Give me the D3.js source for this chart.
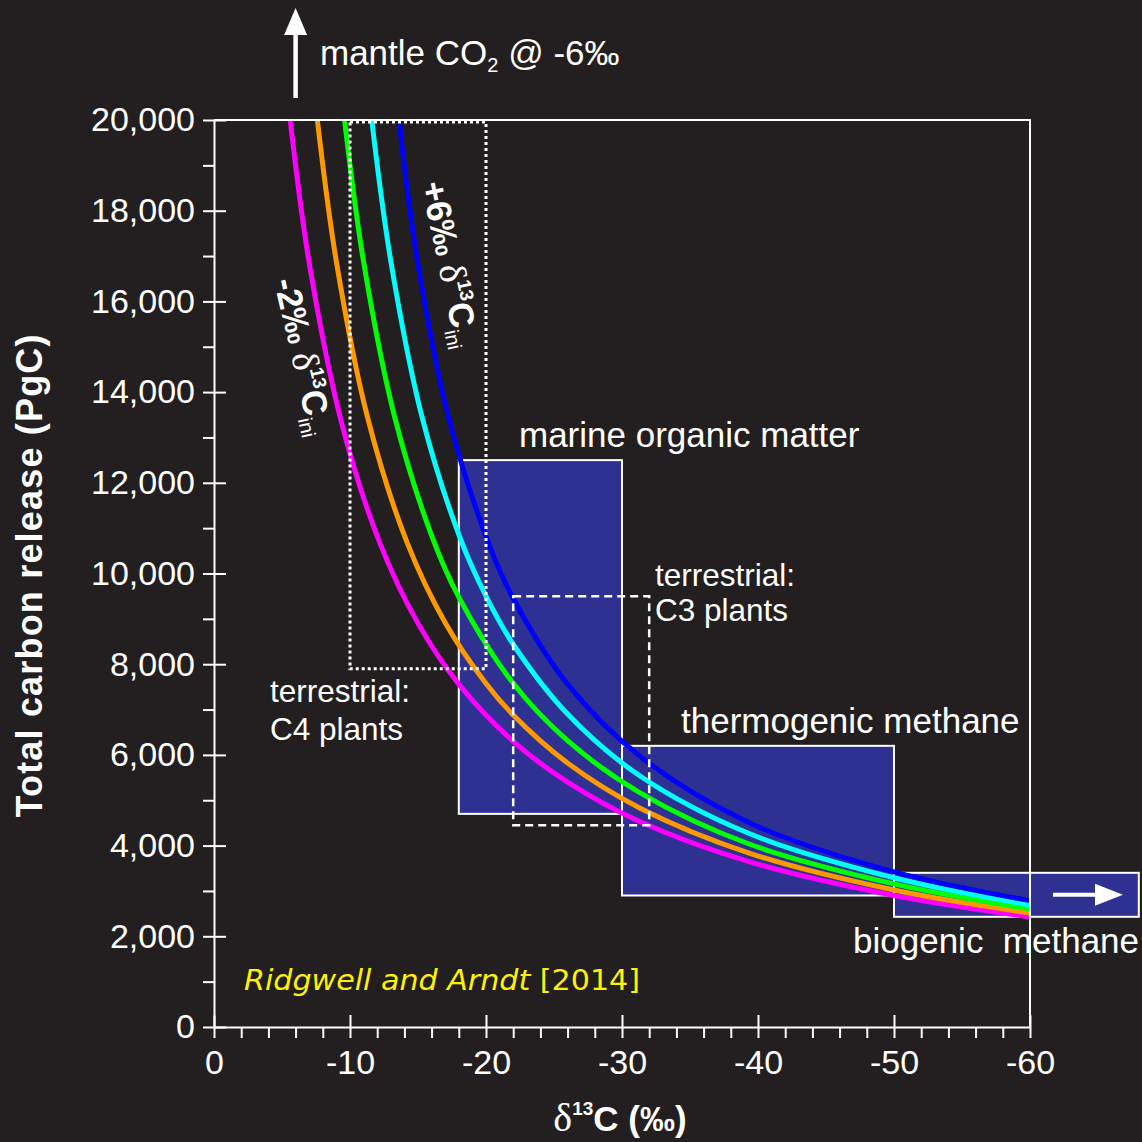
<!DOCTYPE html>
<html>
<head>
<meta charset="utf-8">
<script src="https://cdn.jsdelivr.net/npm/d3@7"></script>
<style>
  html, body { margin: 0; padding: 0; background: #231f20; }
  svg { display: block; }
  text { font-family: "Liberation Sans", Arial, Helvetica, sans-serif; fill: #fff; }
  .serif { font-family: "Liberation Serif", "Times New Roman", serif; }
</style>
</head>
<body>
<script>
// ---- data ---------------------------------------------------------------
const deltaMajorTicks = [0, -10, -20, -30, -40, -50, -60];
const deltaMinorTicks = [-2, -4, -6, -8, -12, -14, -16, -18, -22, -24, -26, -28, -32, -34, -36, -38, -42, -44, -46, -48, -52, -54, -56, -58];
const releaseMajorTicks = [0, 2000, 4000, 6000, 8000, 10000, 12000, 14000, 16000, 18000, 20000];
const releaseMinorTicks = [1000, 3000, 5000, 7000, 9000, 11000, 13000, 15000, 17000, 19000];

// initial ocean δ13C of each mixing curve (‰)
const initialDelta = [-2, 0, 2, 4, 6];

// total carbon release (PgC) against δ13C of the released carbon (‰)
const curveMinus2 = [[-5.6, 20000], [-7.0, 16850], [-9.4, 13300], [-12.2, 10670], [-15.0, 8900], [-18.0, 7560], [-22.0, 6300], [-26.0, 5400], [-31.3, 4530], [-39.4, 3640], [-50.0, 2900], [-60.0, 2430]];
const curveZero   = [[-7.6, 20000], [-9.0, 16870], [-11.3, 13430], [-14.2, 10680], [-17.0, 8915], [-20.0, 7575], [-22.0, 6880], [-26.0, 5820], [-31.3, 4830], [-39.4, 3830], [-50.0, 3020], [-60.0, 2515]];
const curvePlus2  = [[-9.6, 20000], [-11.0, 16870], [-13.3, 13430], [-16.1, 10760], [-18.0, 9480], [-22.0, 7580], [-26.0, 6315], [-31.3, 5170], [-39.4, 4030], [-50.0, 3155], [-60.0, 2600]];
const curvePlus4  = [[-11.6, 20000], [-13.0, 16890], [-15.3, 13450], [-18.1, 10780], [-20.0, 9500], [-22.0, 8440], [-26.0, 6900], [-31.3, 5540], [-39.4, 4260], [-50.0, 3290], [-60.0, 2690]];
const curvePlus6  = [[-13.6, 20000], [-14.9, 17000], [-17.2, 13500], [-20.3, 10580], [-22.0, 9450], [-26.0, 7560], [-31.3, 5975], [-39.4, 4500], [-50.0, 3420], [-60.0, 2787]];

// carbon sources: δ13C range and release range
const sourceNames   = ["marine organic matter", "thermogenic methane", "biogenic  methane"];
const sourceDelta   = [[-18, -30], [-30, -50], [-50, -68]];
const sourceRelease = [[4700, 12500], [2900, 6200], [2430, 3400]];

const plantNames   = ["C4 plants", "C3 plants"];
const plantDelta   = [[-10, -20], [-22, -32]];
const plantRelease = [[7900, 20000], [4450, 9500]];

const mantleDelta = -6;

// ---- layout -------------------------------------------------------------
const W = 1142, H = 1142;
const curveColors = ["#ff00ff", "#ff9900", "#00ff00", "#00ffff", "#0000ff"];
const boxFill = "#2e3192";

const svg = d3.select("body").append("svg").attr("width", W).attr("height", H);
svg.append("rect").attr("width", W).attr("height", H).attr("fill", "#231f20");

const x = d3.scaleLinear().domain([0, -60]).range([214, 1030]);
const y = d3.scaleLinear().domain([0, 20000]).range([1027, 120]);

// ---- source boxes -------------------------------------------------------
svg.append("g").selectAll("rect").data(sourceNames).join("rect")
  .attr("x", (d, i) => x(sourceDelta[i][0]))
  .attr("y", (d, i) => y(sourceRelease[i][1]))
  .attr("width", (d, i) => x(sourceDelta[i][1]) - x(sourceDelta[i][0]))
  .attr("height", (d, i) => y(sourceRelease[i][0]) - y(sourceRelease[i][1]))
  .attr("fill", boxFill).attr("stroke", "#fff").attr("stroke-width", 2);

// arrow inside the biogenic methane box
const bioMid = y((sourceRelease[2][0] + sourceRelease[2][1]) / 2);
svg.append("line").attr("x1", 1053).attr("x2", 1100).attr("y1", bioMid).attr("y2", bioMid)
  .attr("stroke", "#fff").attr("stroke-width", 4);
svg.append("path").attr("d", `M1095,${bioMid - 11}L1123,${bioMid}L1095,${bioMid + 11}Z`).attr("fill", "#fff");

// ---- mixing curves ------------------------------------------------------
const line = d3.line().x(d => x(d[0])).y(d => y(d[1])).curve(d3.curveCatmullRom.alpha(0.5));
const curves = [curveMinus2, curveZero, curvePlus2, curvePlus4, curvePlus6];
svg.append("g").selectAll("path").data(curves).join("path")
  .attr("d", line)
  .attr("fill", "none")
  .attr("stroke", (d, i) => curveColors[i])
  .attr("stroke-width", 5);

// ---- plant boxes (dotted / dashed outlines) -----------------------------
const plantDash = ["3,3", "8,5"];
svg.append("g").selectAll("rect").data(plantNames).join("rect")
  .attr("x", (d, i) => x(plantDelta[i][0]))
  .attr("y", (d, i) => y(plantRelease[i][1]) + (i === 0 ? 2 : 0))
  .attr("width", (d, i) => x(plantDelta[i][1]) - x(plantDelta[i][0]))
  .attr("height", (d, i) => y(plantRelease[i][0]) - y(plantRelease[i][1]) - (i === 0 ? 2 : 0))
  .attr("fill", "none").attr("stroke", "#fff")
  .attr("stroke-width", (d, i) => i === 0 ? 3 : 2.5)
  .attr("stroke-dasharray", (d, i) => plantDash[i]);

// ---- axes ---------------------------------------------------------------
function styleAxis(g) {
  g.selectAll("path, line").attr("stroke", "#fff").attr("stroke-width", 2);
  g.selectAll("text").attr("fill", "#fff").style("font-size", "34px")
    .style("font-family", '"Liberation Sans", Arial, sans-serif');
}
const fmt = d3.format(",");
const xg = svg.append("g").attr("transform", "translate(0,1027)");
xg.append("g").call(d3.axisBottom(x).tickValues(deltaMinorTicks).tickSize(11).tickSizeOuter(0).tickFormat(""))
  .call(g => g.select(".domain").remove()).call(styleAxis);
xg.append("g").call(d3.axisBottom(x).tickValues(deltaMajorTicks).tickSize(-12).tickSizeOuter(0).tickFormat(""))
  .call(styleAxis);
xg.append("g").call(d3.axisBottom(x).tickValues(deltaMajorTicks).tickSize(11).tickSizeOuter(0).tickPadding(12).tickFormat(d => String(d)))
  .call(g => g.select(".domain").remove()).call(styleAxis);

const yg = svg.append("g").attr("transform", "translate(214,0)");
yg.append("g").call(d3.axisLeft(y).tickValues(releaseMinorTicks).tickSize(11).tickSizeOuter(0).tickFormat(""))
  .call(g => g.select(".domain").remove()).call(styleAxis);
yg.append("g").call(d3.axisLeft(y).tickValues(releaseMajorTicks).tickSize(-12).tickSizeOuter(0).tickFormat(""))
  .call(styleAxis);
yg.append("g").call(d3.axisLeft(y).tickValues(releaseMajorTicks).tickSize(11).tickSizeOuter(0).tickPadding(8).tickFormat(fmt))
  .call(g => g.select(".domain").remove()).call(styleAxis);

// frame: top and right edges
svg.append("path").attr("d", `M${x(0)},${y(20000)}H${x(-60)}V${y(0)}`)
  .attr("fill", "none").attr("stroke", "#fff").attr("stroke-width", 2);

// ---- axis titles --------------------------------------------------------
svg.append("text").attr("transform", "translate(42,576) rotate(-90)")
  .attr("text-anchor", "middle").style("font-size", "36px").style("font-weight", "bold")
  .attr("textLength", 483).attr("lengthAdjust", "spacing")
  .text("Total carbon release (PgC)");

const xt = svg.append("text").attr("x", 620).attr("y", 1131).attr("text-anchor", "middle")
  .style("font-size", "35px").style("font-weight", "bold");
xt.append("tspan").attr("class", "serif").style("font-weight", "normal").style("font-size", "40px").text("δ");
xt.append("tspan").attr("dy", -16).style("font-size", "19px").text("13");
xt.append("tspan").attr("dy", 16).text("C (‰)");

// ---- source labels ------------------------------------------------------
const big = "35px", mid = "31.5px";
function label(tx, ty, str, size) {
  svg.append("text").attr("x", tx).attr("y", ty).style("font-size", size)
    .style("white-space", "pre").text(str);
}
label(519, 447, sourceNames[0], big);
label(681, 733, sourceNames[1], big);
label(853, 953, sourceNames[2], big);
label(655, 586, "terrestrial:", mid);
label(655, 621, plantNames[1], mid);
label(270, 702, "terrestrial:", mid);
label(270, 740, plantNames[0], mid);

// mantle CO2 arrow and label
const mx = x(mantleDelta);
svg.append("line").attr("x1", mx).attr("x2", mx).attr("y1", 98).attr("y2", 30)
  .attr("stroke", "#fff").attr("stroke-width", 4.5);
svg.append("path").attr("d", `M${mx - 11.5},35L${mx},8L${mx + 11.5},35Z`).attr("fill", "#fff");
const mt = svg.append("text").attr("x", 320).attr("y", 65).style("font-size", big);
mt.append("tspan").text("mantle CO");
mt.append("tspan").attr("dy", 7).style("font-size", "20px").text("2");
mt.append("tspan").attr("dy", -7).text(" @ -6‰");

// ---- curve end labels (rotated) -----------------------------------------
function curveLabel(tx, ty, angle, value) {
  const t = svg.append("text").attr("transform", `translate(${tx},${ty}) rotate(${angle})`)
    .style("font-size", "35px");
  t.append("tspan").style("font-weight", "bold").text(value + " ");
  t.append("tspan").attr("class", "serif").style("font-size", "38px").text("δ");
  t.append("tspan").attr("dy", -15).style("font-size", "19px").style("font-weight", "bold").text("13");
  t.append("tspan").attr("dy", 15).style("font-weight", "bold").text("C");
  t.append("tspan").attr("dy", 8).style("font-size", "20px").text("ini");
}
const fmtIni = v => (v > 0 ? "+" : v < 0 ? "-" : "") + Math.abs(v) + "‰";
curveLabel(421, 184, 78, fmtIni(initialDelta[4]));
curveLabel(274, 281, 77, fmtIni(initialDelta[0]));

// ---- citation -----------------------------------------------------------
const cite = svg.append("text").attr("x", 244).attr("y", 990)
  .style("font-family", '"DejaVu Sans", Verdana, sans-serif').style("font-size", "28px")
  .attr("textLength", 396).attr("lengthAdjust", "spacingAndGlyphs");
cite.append("tspan").style("font-style", "italic").attr("fill", "#fff200").text("Ridgwell and Arndt ");
cite.append("tspan").attr("fill", "#fff200").text("[2014]");
</script>
</body>
</html>
